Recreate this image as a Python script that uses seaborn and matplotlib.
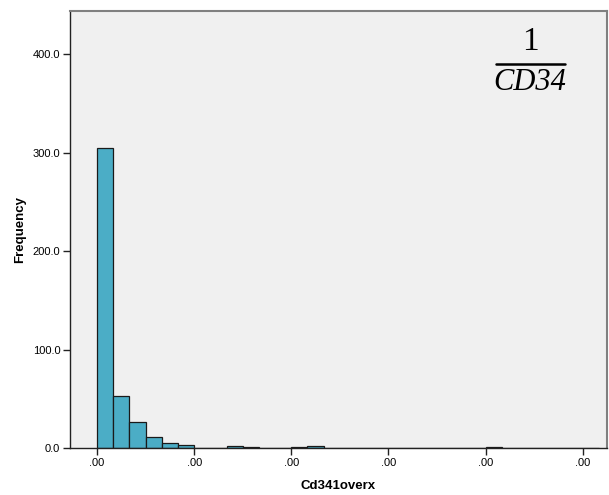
import matplotlib
matplotlib.use("Agg")
import matplotlib.pyplot as plt
import seaborn as sns
import numpy as np
import pandas as pd

# bin index (bin width = 1/6 of the tick spacing) and frequencies
bin_index = [0, 1, 2, 3, 4, 5, 8, 9, 12, 13, 24]
frequency = [305, 53, 26, 11, 5, 3, 2, 1, 1, 2, 1]
x_tick_pos = [0, 6, 12, 18, 24, 30]
x_tick_labels = [".00", ".00", ".00", ".00", ".00", ".00"]
y_ticks = [0, 100, 200, 300, 400]
y_tick_labels = ["0.0", "100.0", "200.0", "300.0", "400.0"]

sns.set_style("ticks")
plt.rcParams['font.family'] = ['Liberation Sans', 'DejaVu Sans']
plt.rcParams['text.color'] = 'black'
plt.rcParams['axes.labelcolor'] = 'black'
plt.rcParams['xtick.color'] = 'black'
plt.rcParams['ytick.color'] = 'black'

fig = plt.figure(figsize=(6.09, 4.95), dpi=100)
ax = fig.add_axes([70/609, 47/495, 537/609, 437/495])
ax.set_facecolor("#F0F0F0")

df = pd.DataFrame({"x": np.array(bin_index) + 0.5, "freq": frequency})
sns.histplot(data=df, x="x", weights="freq", binwidth=1, binrange=(0, 31), ax=ax,
             color="#4BADC6", alpha=1, edgecolor="#1a1a1a", linewidth=0.9)

ax.set_xlim(-1.67, 31.5)
ax.set_ylim(0, 443.7)
ax.set_xticks(x_tick_pos)
ax.set_xticklabels(x_tick_labels, fontsize=8)
ax.set_yticks(y_ticks)
ax.set_yticklabels(y_tick_labels, fontsize=8)
ax.tick_params(axis='both', length=5, width=1, color="#222222", pad=2)

ax.set_xlabel("Cd341overx", fontsize=9.5, fontweight='bold', labelpad=9)
ax.set_ylabel("Frequency", fontsize=9.5, fontweight='bold', labelpad=5)

for s in ['left', 'bottom']:
    ax.spines[s].set_color("#222222")
    ax.spines[s].set_linewidth(1)
for s in ['top', 'right']:
    ax.spines[s].set_color("#808080")
    ax.spines[s].set_linewidth(1.5)

# fraction annotation
fig.text(530/609, 1 - 42/495, "1", fontsize=24, family=['Liberation Serif'],
         ha='center', va='center', color='black')
fig.add_artist(plt.Line2D([496/609, 565/609], [1 - 64/495, 1 - 64/495],
                          color='black', linewidth=1.8))
fig.text(530/609, 1 - 82/495, "CD34", fontsize=22, family=['Liberation Serif'],
         style='italic', ha='center', va='center', color='black')

fig.savefig("out.png", dpi=100)
